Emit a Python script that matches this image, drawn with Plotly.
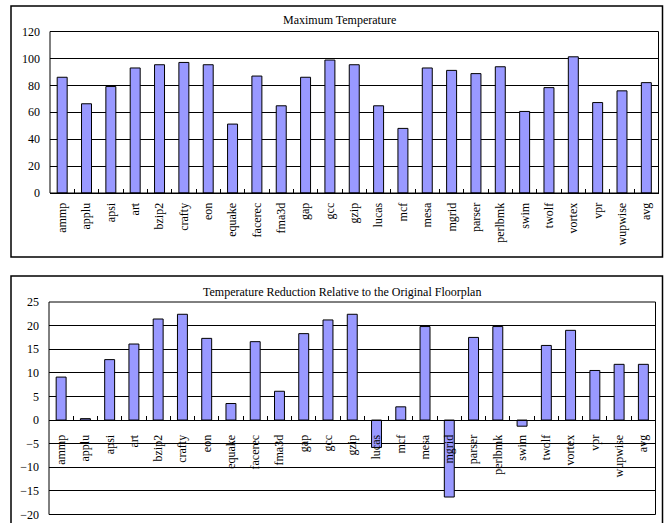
import plotly.graph_objects as go

# SPEC CPU2000 benchmarks plus the average
benchmarks = ["ammp", "applu", "apsi", "art", "bzip2", "crafty", "eon", "equake",
              "facerec", "fma3d", "gap", "gcc", "gzip", "lucas", "mcf", "mesa",
              "mgrid", "parser", "perlbmk", "swim", "twolf", "vortex", "vpr",
              "wupwise", "avg"]

max_temperature = [86.0, 66.3, 79.1, 92.9, 95.3, 97.0, 95.3, 51.2,
                   86.9, 64.8, 86.0, 98.8, 95.3, 64.8, 48.0, 92.9,
                   91.1, 88.7, 93.8, 60.6, 78.3, 101.2, 67.2,
                   75.9, 82.0]

temp_reduction = [9.1, 0.3, 12.8, 16.1, 21.4, 22.4, 17.3, 3.5,
                  16.6, 6.1, 18.3, 21.2, 22.4, -5.8, 2.8, 19.8,
                  -16.3, 17.5, 19.8, -1.3, 15.8, 19.0, 10.5,
                  11.8, 11.8]

top_ticks = [0, 20, 40, 60, 80, 100, 120]
bottom_ticks = [-20, -15, -10, -5, 0, 5, 10, 15, 20, 25]

W, H = 668, 523
SERIF = "Liberation Serif, Times New Roman, serif"
BAR_FILL = "#9999FF"


def px_x(p):
    return p / W


def px_y(p):
    return 1 - p / H


top_dom_x = [px_x(50), px_x(658.5)]
top_dom_y = [px_y(193), px_y(31.5)]
bot_dom_x = [px_x(49), px_x(655.5)]
bot_dom_y = [px_y(514.5), px_y(302)]

bot_range = [bottom_ticks[0], bottom_ticks[-1]]
# paper position of the value 0 on the lower chart, where its category axis sits
zero_pos = bot_dom_y[0] + (0 - bot_range[0]) / (bot_range[1] - bot_range[0]) * (bot_dom_y[1] - bot_dom_y[0])

fig = go.Figure()
fig.add_trace(go.Bar(x=benchmarks, y=max_temperature, xaxis="x", yaxis="y",
                     marker=dict(color=BAR_FILL, line=dict(color="black", width=1))))
fig.add_trace(go.Bar(x=benchmarks, y=temp_reduction, xaxis="x2", yaxis="y2",
                     marker=dict(color=BAR_FILL, line=dict(color="black", width=1))))

tick_font = dict(family=SERIF, size=12, color="black")

xaxis_common = dict(type="category", tickangle=-90, tickfont=tick_font,
                    ticks="inside", ticklen=4, tickcolor="black", tickson="boundaries",
                    showline=True, linecolor="black", linewidth=1,
                    showgrid=False, zeroline=False, fixedrange=True, automargin=False)
yaxis_common = dict(tickfont=tick_font, showgrid=True, gridcolor="black", gridwidth=1,
                    zeroline=True, zerolinecolor="black", zerolinewidth=1,
                    ticks="", showline=False, ticklabelstandoff=9, fixedrange=True,
                    automargin=False)

fig.update_layout(
    width=W, height=H,
    margin=dict(l=0, r=0, t=0, b=0, pad=0, autoexpand=False),
    paper_bgcolor="white", plot_bgcolor="white",
    showlegend=False, bargap=0.59,
    xaxis=dict(domain=top_dom_x, anchor="y", ticklabelstandoff=4, **xaxis_common),
    yaxis=dict(domain=top_dom_y, anchor="x", range=[0, 120], tickvals=top_ticks,
               **yaxis_common),
    xaxis2=dict(domain=bot_dom_x, anchor="free", position=zero_pos,
                ticklabelstandoff=9, **xaxis_common),
    yaxis2=dict(domain=bot_dom_y, anchor="x2", range=bot_range, tickvals=bottom_ticks,
                **yaxis_common),
)

# plot-area frames
for xr, yr in (("x domain", "y domain"), ("x2 domain", "y2 domain")):
    fig.add_shape(type="rect", xref=xr, yref=yr, x0=0, x1=1, y0=0, y1=1,
                  line=dict(color="black", width=1), layer="above")

# chart-area borders
fig.add_shape(type="rect", xref="paper", yref="paper",
              x0=px_x(11), x1=px_x(662.5), y0=px_y(257), y1=px_y(6),
              line=dict(color="black", width=1.5))
fig.add_shape(type="rect", xref="paper", yref="paper",
              x0=px_x(11), x1=px_x(662.5), y0=px_y(530), y1=px_y(276),
              line=dict(color="black", width=1.5))

# chart titles
fig.add_annotation(text="Maximum Temperature", xref="paper", yref="paper",
                   x=px_x(339.5), y=px_y(20), xanchor="center", yanchor="middle",
                   showarrow=False, font=dict(family=SERIF, size=12, color="black"))
fig.add_annotation(text="Temperature Reduction Relative to the Original Floorplan",
                   xref="paper", yref="paper", x=px_x(341.5), y=px_y(292),
                   xanchor="center", yanchor="middle", showarrow=False,
                   font=dict(family=SERIF, size=12, color="black"))

fig.write_html("out.html")
